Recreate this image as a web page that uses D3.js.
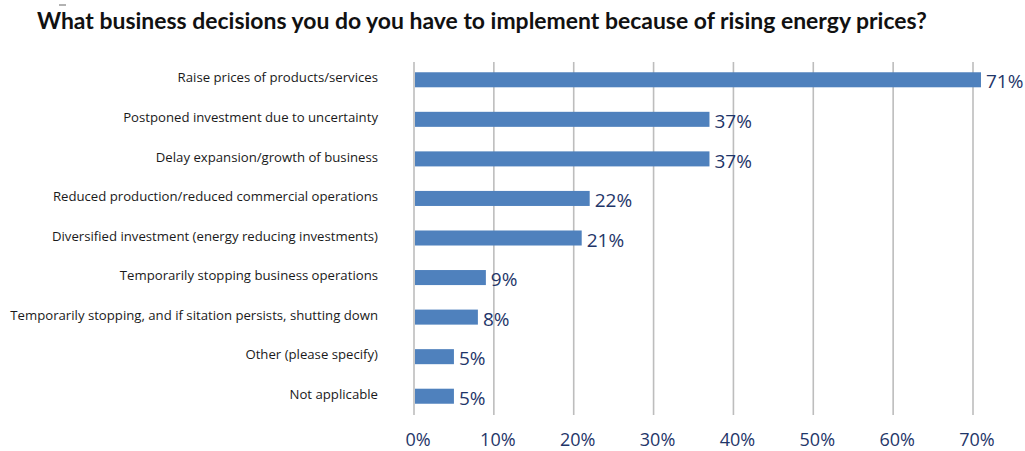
<!DOCTYPE html>
<html>
<head>
<meta charset="utf-8">
<script src="https://cdn.jsdelivr.net/npm/d3@7"></script>
<style>
  html, body { margin: 0; padding: 0; background: #fff; }
  svg { display: block; }
</style>
</head>
<body>
<svg id="chart" width="1025" height="451"></svg>
<script>
const title = "What business decisions you do you have to implement because of rising energy prices?";

const categories = [
  "Raise prices of products/services",
  "Postponed investment due to uncertainty",
  "Delay expansion/growth of business",
  "Reduced production/reduced commercial operations",
  "Diversified investment (energy reducing investments)",
  "Temporarily stopping business operations",
  "Temporarily stopping, and if sitation persists, shutting down",
  "Other (please specify)",
  "Not applicable"
];
const values = [71, 37, 37, 22, 21, 9, 8, 5, 5];
const ticks = [0, 10, 20, 30, 40, 50, 60, 70];

const svg = d3.select("#chart");
const font = "'Open Sans', 'Noto Sans', sans-serif";

const x = d3.scaleLinear().domain([0, 70]).range([414, 973]);
const y = d3.scaleBand().domain(categories).range([60, 416])
  .paddingInner(0.62).paddingOuter(0.31);

// Fit a text element to a target width by adjusting its font size
function fitWidth(sel, target) {
  sel.each(function () {
    const el = this;
    const fs = parseFloat(el.getAttribute("font-size"));
    const w = el.getComputedTextLength();
    if (w > 0) el.setAttribute("font-size", (fs * target / w).toFixed(2));
  });
}

// Title
const t = svg.append("text")
  .attr("x", 37).attr("y", 29)
  .attr("font-family", "Lato, 'Open Sans', sans-serif")
  .attr("font-weight", 700)
  .attr("font-size", 20)
  .attr("fill", "#111")
  .text(title);
fitWidth(t, 890);

svg.append("line")
  .attr("x1", 59).attr("x2", 66).attr("y1", 5).attr("y2", 5)
  .attr("stroke", "#666").attr("stroke-width", 1);

// Vertical gridlines
svg.append("g")
  .selectAll("line")
  .data(ticks)
  .join("line")
  .attr("x1", d => x(d)).attr("x2", d => x(d))
  .attr("y1", 62).attr("y2", 415)
  .attr("stroke", "#bdbdbd")
  .attr("stroke-width", 1.6);

// Bars
svg.append("g")
  .selectAll("rect")
  .data(values)
  .join("rect")
  .attr("x", x(0) + 1)
  .attr("y", (d, i) => y(categories[i]))
  .attr("width", d => x(d) - x(0) - 1)
  .attr("height", y.bandwidth())
  .attr("fill", "#4f81bd");

// Value labels
svg.append("g")
  .selectAll("text")
  .data(values)
  .join("text")
  .attr("x", d => x(d) + 5)
  .attr("y", (d, i) => y(categories[i]) + y.bandwidth() / 2 + 2)
  .attr("dy", "0.35em")
  .attr("font-family", font)
  .attr("font-size", 19)
  .attr("fill", "#1f3669")
  .text(d => d + "%");

// Category labels
const catLabels = svg.append("g")
  .selectAll("text")
  .data(categories)
  .join("text")
  .attr("x", 378)
  .attr("y", d => y(d) + y.bandwidth() / 2 - 2)
  .attr("dy", "0.35em")
  .attr("text-anchor", "end")
  .attr("font-family", font)
  .attr("font-size", 12)
  .attr("fill", "#1a1a1a")
  .text(d => d);
// scale all category labels by the ratio of the longest one
{
  const longest = catLabels.filter((d, i) => i === 6).node();
  const r = 368 / longest.getComputedTextLength();
  catLabels.attr("font-size", (12 * r).toFixed(2));
}

// X axis tick labels
svg.append("g")
  .selectAll("text")
  .data(ticks)
  .join("text")
  .attr("x", d => x(d) + 4)
  .attr("y", 440)
  .attr("dy", "0.35em")
  .attr("text-anchor", "middle")
  .attr("font-family", font)
  .attr("font-size", 18)
  .attr("fill", "#1f3669")
  .text(d => d + "%");
</script>
</body>
</html>
